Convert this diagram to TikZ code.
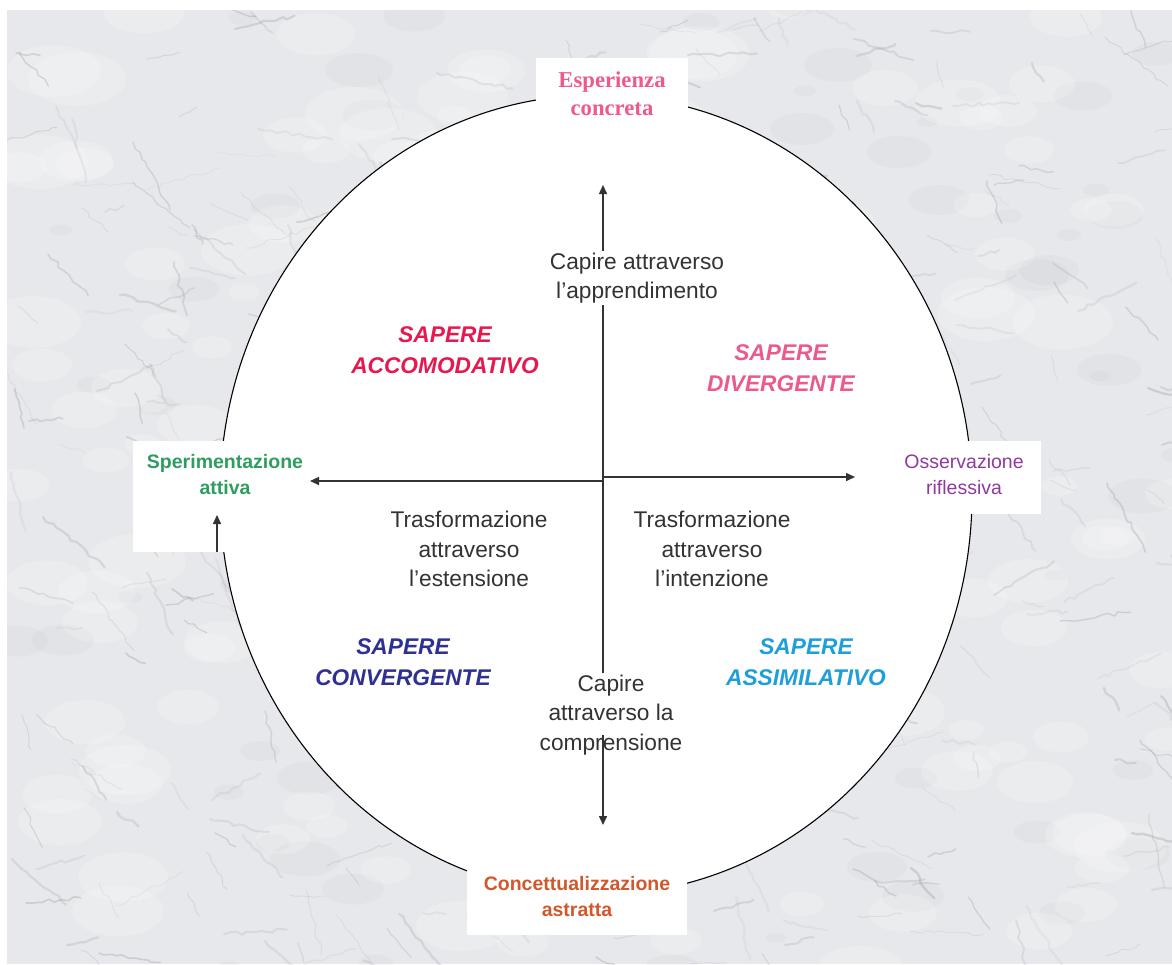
\documentclass[tikz,border=0pt]{standalone}
\usepackage{fontspec}
\setmainfont{Liberation Sans}
\newfontfamily\timesbold[BoldFont={Liberation Serif Bold}]{Liberation Serif}
\usetikzlibrary{arrows.meta,decorations.pathmorphing}

\definecolor{marblebase}{HTML}{E7E8EB}
\definecolor{vein}{HTML}{8A8D95}
\definecolor{axisgray}{HTML}{333333}
\definecolor{textgray}{HTML}{333333}
\definecolor{accred}{HTML}{E5194F}
\definecolor{divpink}{HTML}{EC5A8C}
\definecolor{convblue}{HTML}{2E3192}
\definecolor{assimcyan}{HTML}{1E9FDA}
\definecolor{expink}{HTML}{EE5A8A}
\definecolor{actgreen}{HTML}{2E9E60}
\definecolor{obspurple}{HTML}{8E3A9E}
\definecolor{absorange}{HTML}{D2572B}

\begin{document}
\begin{tikzpicture}[x=1pt,y=-1pt,
  panel/.style={fill=white, draw=none, inner sep=0pt},
  axis/.style={draw=axisgray, line width=1.5pt},
  arr/.style={axis, -{Triangle[length=9pt,width=8pt]}},
  body/.style={font=\fontsize{22.7}{29.5}\selectfont, text=textgray, align=center, inner sep=2pt},
  quad/.style={font=\fontsize{22.7}{30.5}\selectfont\bfseries\itshape, align=center},
  pole/.style={font=\fontsize{19.5}{26}\selectfont, align=center, inner sep=0pt},
  streak/.style={draw=vein, line cap=round, line join=round, decorate,
    decoration={random steps, segment length=6pt, amplitude=2pt}}
]
\useasboundingbox (0,0) rectangle (1172,964);

% marble background: soft light clouds, faint shading and thin grey veins
\begin{scope}
  \clip (7,10) rectangle (1172,964);
  \fill[marblebase] (7,10) rectangle (1172,964);
  \pgfmathsetseed{4217}
  \foreach \i in {1,...,90}{
    \pgfmathsetmacro{\bx}{random(0,1180)}
    \pgfmathsetmacro{\by}{random(0,970)}
    \pgfmathsetmacro{\br}{random(10,35)}
    \fill[vein, opacity=0.05] (\bx,\by) ellipse [x radius=\br, y radius=0.5*\br];
  }
  \foreach \i in {1,...,160}{
    \pgfmathsetmacro{\bx}{random(0,1180)}
    \pgfmathsetmacro{\by}{random(0,970)}
    \pgfmathsetmacro{\br}{random(15,50)}
    \fill[white, opacity=0.18] (\bx,\by) ellipse [x radius=\br, y radius=0.55*\br];
  }
  \foreach \i in {1,...,380}{
    \pgfmathsetmacro{\vx}{random(0,1180)}
    \pgfmathsetmacro{\vy}{random(0,970)}
    \pgfmathsetmacro{\va}{25+55*rand}
    \pgfmathsetmacro{\vl}{random(20,80)}
    \pgfmathsetmacro{\vw}{0.6+1.8*rnd}
    \pgfmathsetmacro{\vo}{0.08+0.22*rnd}
    \draw[streak, line width=\vw pt, opacity=\vo] (\vx,\vy) -- ++(\va:\vl);
  }
\end{scope}

% the learning cycle disc
\draw[fill=white, draw=black, line width=1.1pt] (596,495) ellipse [x radius=376, y radius=400];

% pole panels
\node[panel, minimum width=152pt, minimum height=72pt, text=expink,
      font=\fontsize{22.7}{28}\selectfont\timesbold\bfseries, align=center]
  (exp) at (612,94) {Esperienza\\concreta};
\node[panel, minimum width=174pt, minimum height=111pt] (actbox) at (220,496.5) {};
\node[panel, minimum width=171pt, minimum height=73pt] (obsbox) at (955.5,477.5) {};
\node[panel, minimum width=220pt, minimum height=77pt, text=absorange,
      font=\fontsize{19.5}{26}\selectfont\bfseries, align=center]
  (abs) at (577,896.5) {Concettualizzazione\\astratta};

\node[pole, text=actgreen, font=\fontsize{19.5}{26}\selectfont\bfseries] (act) at (225,475) {Sperimentazione\\attiva};
\node[pole, text=obspurple] (obs) at (964,475) {Osservazione\\riflessiva};

% axes
\coordinate (o) at (603,481);
\coordinate (otop) at (603,185);
\coordinate (obot) at (603,825);
\coordinate (oleft) at (310,481);
\coordinate (oright) at (855,477);
\draw[arr] (o) -- (otop);
\draw[arr] (o) -- (obot);
\draw[arr] (o) -- (oleft);
\draw[arr] (603,477) -- (oright);

% small arrow out of the active experimentation panel
\coordinate (acttip) at (217,515);
\draw[arr] (actbox.south -| acttip) -- (acttip);

% axis captions
\node[body, fill=white] (learn) at (637,278) {Capire attraverso\\l’apprendimento};
\node[body] (ext) at (469,549) {Trasformazione\\attraverso\\l’estensione};
\node[body] (int) at (712,549) {Trasformazione\\attraverso\\l’intenzione};
\node[body, fill=white] (comp) at (611,715) {Capire\\attraverso la\\comprensione};
\coordinate (compa) at (603,735);
\coordinate (compb) at (603,770);
\draw[axis] (compa) -- (compb);

% quadrant labels
\node[quad, text=accred] (acc) at (445,350) {SAPERE\\ACCOMODATIVO};
\node[quad, text=divpink] (div) at (781,368) {SAPERE\\DIVERGENTE};
\node[quad, text=convblue] (conv) at (403,662) {SAPERE\\CONVERGENTE};
\node[quad, text=assimcyan] (assim) at (806,662) {SAPERE\\ASSIMILATIVO};
\end{tikzpicture}
\end{document}
